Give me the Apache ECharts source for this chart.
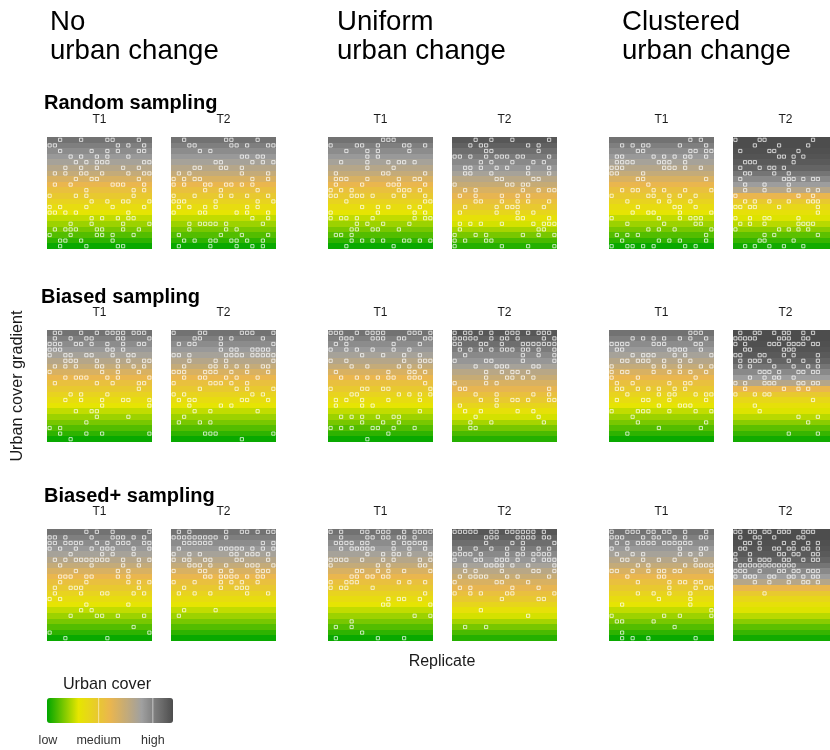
<!DOCTYPE html>
<html><head><meta charset="utf-8">
<script src="https://cdn.jsdelivr.net/npm/echarts@6/dist/echarts.min.js"></script>
<style>html,body{margin:0;padding:0;background:#fff}#c{width:830px;height:750px}</style>
</head><body><div id="c"></div>
<script>
// ---------- DATA ----------
const scenarios = [['No', 'urban change'], ['Uniform', 'urban change'], ['Clustered', 'urban change']];
const samplings = ['Random sampling', 'Biased sampling', 'Biased+ sampling'];
const times = ['T1', 'T2'];
const legendTitle = 'Urban cover';
const legendLabels = ['low', 'medium', 'high'];
const legendTickValues = [0, 0.41, 0.84];
const palette = ['#00a600', '#e6e600', '#eab64e', '#a0a0a0', '#4d4d4d'];

// urban cover of each landscape row (top row first)
const bandT1 = [0.89,0.85,0.81,0.77,0.73,0.68,0.63,0.56,0.50,0.45,0.40,0.35,0.30,0.26,0.21,0.17,0.13,0.09,0.05,0.01];
const bandUniformT2 = [0.97,0.94,0.90,0.86,0.82,0.78,0.73,0.67,0.62,0.56,0.51,0.45,0.40,0.34,0.28,0.23,0.18,0.13,0.08,0.04];
const bandClusteredT2 = [1.00,1.00,0.99,0.98,0.96,0.93,0.88,0.82,0.76,0.68,0.50,0.40,0.33,0.28,0.24,0.20,0.15,0.10,0.06,0.02];

// sampled cells: for each row (top first) the occupied column indices (0-19)
const randNoT1 = [[2,6,11,12,17],[0,1,13,15,18],[2,8,11,13,17,18],[4,6,9,11,15],[5,7,9,10,11,18,19],[3,6,9,14,17],[1,3,6,7,10,15,18,19],[5,8,9,17],[1,4,12,13,14,18],[7,16,18],[0,5,7,16],[8,11,14,15,19],[0,2,7,12,18],[0,1,3,5,15],[8,10,13,15,16],[4,8,14,19],[1,3,4,5,9,10,14,17],[0,4,9,10,12,16],[2,3,6,12],[2,7,13,14]];
const randNoT2 = [[2,10,11,16],[3,4,11,12,14,18,19],[5,7],[13,14,16,17],[8,9,15,17,19],[4,5,9,10,13],[1,3,13,18],[0,2,4,5,15,18],[0,2,6,7,10,11,13,15],[6,9,16],[0,4,9,11,14,18],[0,1,2,8,16,19],[1,3,6,8,14,16],[0,5,6,12,14,18],[15,18],[3,5,6,7,8,10,17],[3,10,12],[1,9,13,18],[2,4,7,8,11,12,14,17],[1,7,12,15,17]];
const randUniT1 = [[10,11,12],[0,5,6,9,14,15,18],[3,7,9,15],[7,9],[2,7,11,13,14,16],[7,12],[1,10,11,18],[1,2,3,7,13,16,17],[1,6,11,12,13,18],[0,2,4,13,14,15,17],[0,1,4,5,6,8,12,14,18],[3,18,19],[6,9,11,15,17],[0,9,16,18],[0,2,3,5,8,16,18,19],[5,7,10,15],[4,5,8,9,13],[1,2,4],[4,6,8,10,14,15,17,19],[3,12]];
const randUniT2 = [[4,7,11,18],[3,5,6,14,16],[6,7,16],[0,1,3,6,8,9,10,12,13,18],[5,7,11,15,17],[2,3,5,8,10,14,18],[2,3,7,14,18],[8,9,15,16],[0,10,11,13,14],[2,4,13,16,18,19],[1,4,9,12,14],[4,5,9,12,14,18],[2,8,10,11,12,17],[1,8,12,15],[12,13,18],[1,3,5,9,15,17,18,19],[1,16,17],[0,4,6,13,16,19],[0,2,6,7],[0,9,14,19]];
const randCluT1 = [[15,17],[2,4,6,7,13,18],[5,6,15,16,18,19],[1,2,8,10,12,14,15,18],[1,2,3,4,9,10,11,14],[0,1,2,10,11,12,14,17],[0,1,6],[5,6,18],[7],[2,4,5,8,10,14,19],[0,7,8,11,13,16],[3,9,11,15],[5,12,13,16],[4,7,8,13,19],[0,9,13,15,16,17],[3,10,16,17],[7,9,12,19],[1,3,5,18],[2,9,11,13,18],[0,3,4,6,8,14,16]];
const randCluT2 = [[0,5,6,16],[4,9,15],[1,7,8,13],[9,10,12,14],[2,3,4,12],[1,5,7,8,10],[2,3,8,11],[1,10,11,12,14,16,17],[2,6,11],[2,6,11,15,17],[0,13,16],[2,4,7,11,15,16,17],[0,1,3,4,9,17],[17],[0,3,6,7,13],[1,3,6,13,14,15,16],[0,9,11,13,15],[6,8,17],[5,6,12],[2,4,7,10,14]];

const biasNoT1 = [[1,2,6,9,11,12,13,14,16,17,18],[1,4,7,8,13,14,19],[0,1,2,5,6,8,11,14,17,18],[0,1,2,11,12,14],[0,3,4,7,8,12,15,16],[3,4,5,9,13,15,18,19],[1,3,5,9,10,13,16,18],[0,10,13,17],[3,5,6,7,11,13,19],[1,9,12,17,18],[17],[4,6,11],[3,6,10,14,15,19],[10,19],[5,8,9],[9,15],[7],[0,2],[2,7,10,19],[4]];
const biasNoT2 = [[0,5,6,13,14,15,19],[4,5,9,11,17],[1,3,4,9,19],[9,11,12,15,16,17,18],[0,1,3,10,11,12,13,15,16,17,18,19],[3,8,10,19],[2,7,8,10,12,14,17,18],[0,1,2,6,7,8,11,14,18],[2,5,6,10,12,16],[0,7,8,9,11,14],[5,12,14,19],[0,2,15,17],[1,3,4,13,14,18],[3,9,11],[4,7,16],[2],[1,5,7],[],[6,7,8,19],[13]];
const biasUniT1 = [[0,1,2,5,7,8,9,10,15,16,17,19],[2,3,4,8,9,10,13,14,18,19],[1,3,12,17],[0,3,5,8,12,15],[6,10,14,17],[0,3,14,17,18,19],[4,7,13,15,17],[1,11,15,16,18],[2,5,7,9,11,12,15,16,17],[18],[0,6,7,10,11,19],[4,5,13,15,17,19],[1,3,6,11,17],[1,6,8],[17],[2,4,6,9,12,13],[6,10,13],[0,2,4,8,9,12,16],[11],[7]];
const biasUniT2 = [[0,2,3,5,7,10,11,12,14,16,17,18],[0,1,2,3,4,7,9,10,12,17,19],[0,1,5,6,9,13,14,15,16,17,18,19],[1,3,5,7,9,10,11,13,14,16,19],[2,13,16,19],[0,6,7,13,19],[4,8,9,10,15,16],[6,9,11,12,14],[6,10,11,13,15],[0,6,8],[1,2,18],[4,8,15,18],[5,8,11,12,14,18,19],[1,8],[2,5,12,15],[4,16],[3,7,17],[3,4],[],[]];
const biasCluT1 = [[15,16,17],[4,6,8,10,13,15,18],[0,1,2,3,8,9,10,16,17],[1,2,11,12,13,14,17],[4,6,7,8,12,14,19],[2,3,5,6,7,10,13,15],[0,8,10,13,17,19],[0,2,3,8,11,13,15,18],[0,5,16],[1,4,11,14,15],[1,2,5,7,9,12,14],[3,9,11,12,16,18,19],[1,6,7,11,18],[9,13,14,15],[0,5,6,7,11,16,19],[4],[5,18],[9,17],[3],[]];
const biasCluT2 = [[1,4,5,8,10,11,14,16],[0,1,2,3,4,9,10,11,14,15],[0,2,7,8,9,11,12,13,14,16,17],[2,3,10,11,12],[0,1,5,6,10,12,17],[1,3,4,5,7,11,14,17],[1,3,8,12,15,17],[5,6,7,9,13,14,16,17],[3,6,8,9,12],[0,2,6,7,8,13,14,16,17],[2,10,13,15],[0,4,6,7],[16],[4],[5],[13,17],[15],[],[11,17],[]];

const plusNoT1 = [[7,9,12,19],[0,1,3,8,12,13,14,16,18],[0,1,3,4,5,6,9,11,13,14,15,18,19],[0,2,5,8,10,11,12,16,19],[4,10,12,16],[1,3,5,6,7,8,9,10,11,14,17,19],[2,8,14,17],[5,13,15],[2,3,4,7,8,13,15],[2,7,15,17,19],[1,4,5,6,17],[1,6,10,11,16,18],[0,2],[7,15],[6,8],[4,9,10,13,18],[],[16],[0,19],[3,11]];
const plusNoT2 = [[1,3,10,13,14,16,18,19],[0,1,2,3,4,5,6,7,8,10],[2,3,4,5,6,7,17,19],[1,9,10,11,12,13,15,17,19],[0,3,5,11,12,14,15,16,18],[0,2,3,6,7,12,13,18],[3,4,5,7,10,14,15,16,19],[0,5,6,9,11,16,17,18],[6,7,9,10,11,12,14,16,17],[0,4,9,11,13,16],[2,9,12,13,14],[1,4,7,14,18],[],[],[2,8],[1],[],[],[],[]];
const plusUniT1 = [[0,2,6,7,9,10,11,14,16,17,18,19],[2,7,8,10,11,13,14,16],[1,2,3,4,6,7,12,14,15,16,17,18],[2,4,5,6,7,8,12,15,18],[7,10,12,13,15,19],[0,1,2,3,6,10,12,17,19],[0,9,11,17,18],[5,6,9,11,14,19],[4,5,7,8,10,11],[0,3,4,5,13,15,18],[0,2,3,8],[18],[11,13,14,17],[10,11,19],[],[16,19],[4],[1,4],[6],[1,9,14]];
const plusUniT2 = [[0,1,2,3,4,7,8,10,11,12,13,14,15,17],[6,7,8,12,13,14,15,17,18],[6,11,13,19],[1,4,7,10,13,16,18],[0,1,2,3,5,10,12,13,15,16,17,18],[0,4,5,8,9,10,12,15,17,18,19],[2,6,7,8,9,11,14,19],[2,4,9,15,16,19],[1,3,4,5,6,10,12,18],[0,8,9,14],[1,3,11,16],[0,3,5,10,11,19],[9,16,17],[],[5],[14],[],[2,6],[],[]];
const plusCluT1 = [[0,3,4,5,7,8,10,11,14,18],[0,1,2,6,8,9,12,14,17,18],[1,3,5,6,7,8,10,11,12,13,14,15],[0,3,13,17,18],[1,4,6,13,15,17],[2,3,6,9,12,16],[5,7,14,16,17,18,19],[0,1,4,7,9,10,12,13,19],[3,9,10],[5,11,13,14,16,17],[11,16,18,19],[5,8,11,15],[9,15],[2,15],[19],[0,10,13,19],[1,2,8],[12],[2],[2,4,7,16]];
const plusCluT2 = [[0,1,3,4,6,7,9,10,11,14,15,16],[1,4,5,8,13,14],[2,3,5,10,12,15,17],[1,2,5,8,9,11,12,14,15,17],[0,3,9,10,12,13,16,17],[0,3,5,6,7,10,11,14,16,17],[1,2,3,4,5,6,7,8,9,10,11,12],[0,1,2,5,9,10,12,13,15,16,17],[0,2,3,4,7,8,11,12,14,16,17],[4,7,11,14,15,17],[],[6],[],[],[],[],[],[],[],[]];

// ---------- LAYOUT ----------
const panelPoints = [
  [randNoT1, randNoT2, randUniT1, randUniT2, randCluT1, randCluT2],
  [biasNoT1, biasNoT2, biasUniT1, biasUniT2, biasCluT1, biasCluT2],
  [plusNoT1, plusNoT2, plusUniT1, plusUniT2, plusCluT1, plusCluT2]
];
const panelBands = [bandT1, bandT1, bandT1, bandUniformT2, bandT1, bandClusteredT2];
const colLefts = [47, 171, 328, 452, 609, 733];
const rowTops = [137, 330, 529];
const PW = 105, PH = 112, N = 20;
const FONT = '"Liberation Sans", Arial, Helvetica, sans-serif';

const grid = [], xAxis = [], yAxis = [], series = [], bandIdx = [], graphic = [];
let gi = 0;
for (let s = 0; s < 3; s++) {
  for (let k = 0; k < 6; k++) {
    grid.push({left: colLefts[k], top: rowTops[s], width: PW, height: PH, show: false});
    xAxis.push({type: 'value', gridIndex: gi, min: 0, max: N, show: false});
    yAxis.push({type: 'value', gridIndex: gi, min: 0, max: N, show: false});
    bandIdx.push(series.length);
    series.push({
      type: 'custom', xAxisIndex: gi, yAxisIndex: gi, silent: true, z: 1,
      data: panelBands[k].map((v, r) => [N - 1 - r, v]),
      renderItem: function (params, api) {
        const r = api.value(0);
        const a = api.coord([0, r + 1]);
        const b = api.coord([N, r]);
        const x0 = Math.round(a[0]), x1 = Math.round(b[0]);
        const y0 = Math.round(a[1]), y1 = Math.round(b[1]);
        return {type: 'rect', shape: {x: x0, y: y0, width: x1 - x0, height: y1 - y0},
                style: {fill: api.visual('color')}};
      }
    });
    const pts = [];
    panelPoints[s][k].forEach((cols, r) => cols.forEach(c => pts.push([c + 0.5, N - 1 - r + 0.5])));
    series.push({
      type: 'scatter', xAxisIndex: gi, yAxisIndex: gi, silent: true, z: 3,
      symbol: 'rect', symbolSize: 3.2,
      itemStyle: {color: 'rgba(0,0,0,0)', borderColor: 'rgba(255,255,255,0.9)', borderWidth: 1},
      data: pts
    });
    graphic.push({type: 'text', x: colLefts[k] + PW / 2, y: rowTops[s] - 17,
      style: {text: times[k % 2], font: '12px ' + FONT, fill: '#1a1a1a', textAlign: 'center', textVerticalAlign: 'middle'}});
    gi++;
  }
}

const headerX = [50, 337, 622];
scenarios.forEach((lines, i) => {
  graphic.push({type: 'text', x: headerX[i], y: 22, style: {text: lines[0], font: '27.6px ' + FONT, fill: '#000', textAlign: 'left', textVerticalAlign: 'middle'}});
  graphic.push({type: 'text', x: headerX[i], y: 51, style: {text: lines[1], font: '27.6px ' + FONT, fill: '#000', textAlign: 'left', textVerticalAlign: 'middle'}});
});
const rowTitleX = [44, 41, 44], rowTitleY = [103, 297, 496];
samplings.forEach((t, i) => {
  graphic.push({type: 'text', x: rowTitleX[i], y: rowTitleY[i], style: {text: t, font: 'bold 20px ' + FONT, fill: '#000', textAlign: 'left', textVerticalAlign: 'middle'}});
});
graphic.push({type: 'text', x: 18, y: 386, rotation: Math.PI / 2,
  style: {text: 'Urban cover gradient', font: '16.2px ' + FONT, fill: '#1a1a1a', textAlign: 'center', textVerticalAlign: 'middle'}});
graphic.push({type: 'text', x: 442, y: 662,
  style: {text: 'Replicate', font: '16px ' + FONT, fill: '#1a1a1a', textAlign: 'center', textVerticalAlign: 'middle'}});
graphic.push({type: 'text', x: 107, y: 685,
  style: {text: legendTitle, font: '16.2px ' + FONT, fill: '#1a1a1a', textAlign: 'center', textVerticalAlign: 'middle'}});
const LB = {left: 47, top: 698, w: 126, h: 25};
legendTickValues.forEach((v, i) => {
  const x = LB.left + v * LB.w;
  if (i > 0) graphic.push({type: 'line', z: 100, shape: {x1: x, y1: LB.top, x2: x, y2: LB.top + LB.h}, style: {stroke: 'rgba(255,255,255,0.55)', lineWidth: 1}});
  graphic.push({type: 'text', x: Math.max(x, 48), y: 741,
    style: {text: legendLabels[i], font: '12.5px ' + FONT, fill: '#333', textAlign: 'center', textVerticalAlign: 'middle'}});
});

const chart = echarts.init(document.getElementById('c'), null, {renderer: 'canvas'});
chart.setOption({
  animation: false,
  backgroundColor: '#ffffff',
  grid, xAxis, yAxis, series, graphic,
  visualMap: {
    type: 'continuous', min: 0, max: 1, orient: 'horizontal',
    left: LB.left, top: LB.top, itemWidth: LB.h, itemHeight: LB.w, padding: 0,
    calculable: false, realtime: false, hoverLink: false, text: null, showLabel: false,
    dimension: 1, seriesIndex: bandIdx,
    inRange: {color: palette}
  }
});
</script>
</body></html>
